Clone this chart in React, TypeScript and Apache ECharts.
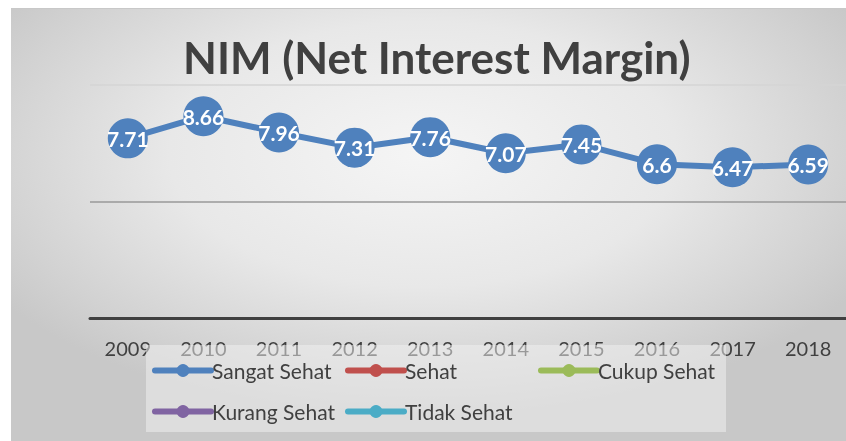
import React, { useEffect, useRef } from "react";
import * as echarts from "echarts";

const years = ["2009", "2010", "2011", "2012", "2013", "2014", "2015", "2016", "2017", "2018"];
const sangatSehat = [7.71, 8.66, 7.96, 7.31, 7.76, 7.07, 7.45, 6.6, 6.47, 6.59];
const sehat: number[] = [];
const cukupSehat: number[] = [];
const kurangSehat: number[] = [];
const tidakSehat: number[] = [];
const seriesNames = ["Sangat Sehat", "Sehat", "Cukup Sehat", "Kurang Sehat", "Tidak Sehat"];
const seriesColors = ["#4f81bd", "#c0504d", "#9bbb59", "#8064a2", "#4bacc6"];
const seriesData = [sangatSehat, sehat, cukupSehat, kurangSehat, tidakSehat];
const legendPos = [
  [152, 360],
  [345, 360],
  [538, 360],
  [152, 401],
  [345, 401],
];

export default function App() {
  const ref = useRef<HTMLDivElement>(null);
  useEffect(() => {
    if (!ref.current) return;
    document.documentElement.style.overflow = "hidden";
    const chart = echarts.init(ref.current, null, { renderer: "svg" });
    const font = "Lato, 'Open Sans', sans-serif";
    chart.setOption({
      animation: false,
      backgroundColor: new echarts.graphic.RadialGradient(0.5, 0.35, 0.6, [
        { offset: 0, color: "#f5f5f5" },
        { offset: 0.5, color: "#e8e8e8" },
        { offset: 0.85, color: "#d2d2d2" },
        { offset: 1, color: "#c8c8c8" },
      ]),
      title: {
        text: "NIM (Net Interest Margin)",
        left: 178,
        top: 30,
        textStyle: { fontFamily: font, fontWeight: "bold", fontSize: 44, color: "#404040" },
      },
      grid: { left: 90, right: -2, top: 85, bottom: 123, containLabel: false },
      xAxis: {
        type: "category",
        data: years,
        boundaryGap: true,
        axisTick: { show: false },
        axisLine: { lineStyle: { color: "#404040", width: 3 } },
        axisLabel: { fontFamily: font, fontSize: 20, color: "#404040", margin: 20 },
      },
      yAxis: {
        type: "value",
        min: 0,
        max: 10,
        interval: 5,
        axisLabel: { show: false },
        axisLine: { show: false },
        axisTick: { show: false },
        splitLine: { lineStyle: { color: ["#888", "#999", "#d4d4d4"], width: 1.5 } },
      },
      legend: seriesNames.map((n, i) => ({
        data: [n],
        left: legendPos[i][0],
        top: legendPos[i][1],
        padding: 0,
        itemWidth: 56,
        itemHeight: 16,
        itemGap: 2,
        z: 5,
        lineStyle: { width: 6, cap: "round" },
        textStyle: { fontFamily: font, fontSize: 21, color: "#404040", padding: [0, 0, 0, -4] },
      })),
      graphic: [
        {
          type: "rect",
          z: 3,
          shape: { x: 146, y: 345, width: 580, height: 87 },
          style: { fill: "rgba(242,242,242,0.5)" },
        },
        {
          type: "rect",
          z: 10,
          shape: { x: 0, y: 0, width: 846, height: 8 },
          style: { fill: "#ffffff" },
        },
        {
          type: "rect",
          z: 10,
          shape: { x: 0, y: 0, width: 11, height: 441 },
          style: { fill: "#ffffff" },
        },
        {
          type: "line",
          z: 10,
          shape: { x1: 11, y1: 8.5, x2: 846, y2: 8.5 },
          style: { stroke: "#c8c8c8", lineWidth: 1 },
        },
      ],
      series: seriesNames.map((n, i) => ({
        name: n,
        type: "line",
        data: seriesData[i],
        symbol: "circle",
        symbolSize: 40,
        z: 2,
        itemStyle: { color: seriesColors[i] },
        lineStyle: { color: seriesColors[i], width: 6 },
        label: {
          show: true,
          position: "inside",
          color: "#ffffff",
          fontFamily: font,
          fontWeight: "bold",
          fontSize: 21,
        },
      })),
    });
    return () => chart.dispose();
  }, []);
  return (
    <div
      ref={ref}
      style={{ position: "fixed", left: 0, top: 0, width: 846, height: 441 }}
    />
  );
}
